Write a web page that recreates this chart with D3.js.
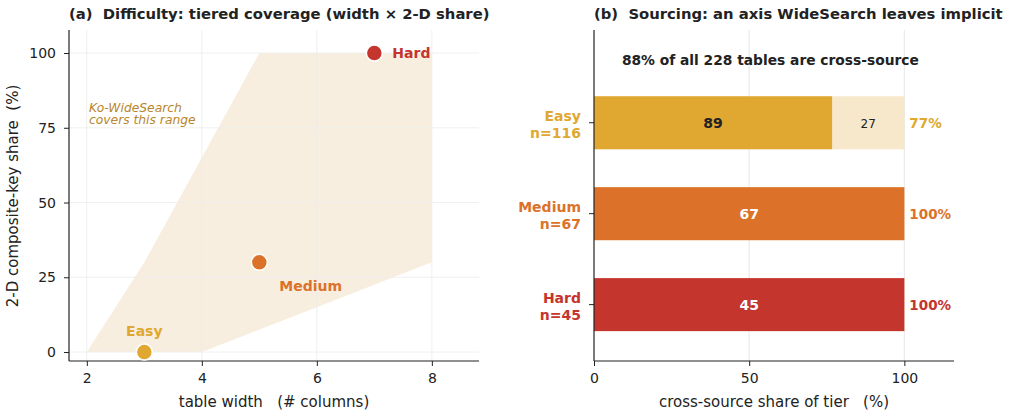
<!DOCTYPE html>
<html>
<head>
<meta charset="utf-8">
<script src="https://cdn.jsdelivr.net/npm/d3@7"></script>
<style>
  body { margin: 0; background: #fff; }
  svg { font-family: "DejaVu Sans", sans-serif; }
  text { white-space: pre; }
</style>
</head>
<body>
<svg id="chart" width="1016" height="416"></svg>
<script>
// panel (a) data
const tiers = ["Easy", "Medium", "Hard"];
const tierWidth = [3, 5, 7];
const tierShare = [0, 30, 100];
const tierColors = ["#e0a830", "#dc7229", "#c4352d"];
const coverX = [2, 3, 5, 8, 8, 4];
const coverY = [0, 30, 100, 100, 30, 0];
const aTicksX = [2, 4, 6, 8];
const aTicksY = [0, 25, 50, 75, 100];

// panel (b) data
const tierN = [116, 67, 45];
const crossSource = [89, 67, 45];
const crossPct = ["77%", "100%", "100%"];
const bTicksX = [0, 50, 100];

const svg = d3.select("#chart");
const ink = "#222";
const grid = "#ebebeb";

//---------- panel (a)
const ax = d3.scaleLinear().domain([1.69, 8.82]).range([69, 479]);
const ay = d3.scaleLinear().domain([-3, 107.7]).range([361, 30]);
const ga = svg.append("g");

ga.append("path")
  .attr("d", d3.line().x(d => ax(d[0])).y(d => ay(d[1]))(coverX.map((x, i) => [x, coverY[i]])) + "Z")
  .attr("fill", "#f8eedf");

ga.selectAll("line.gx").data(aTicksX).join("line")
  .attr("x1", d => ax(d)).attr("x2", d => ax(d)).attr("y1", 30).attr("y2", 361)
  .attr("stroke", grid).attr("stroke-opacity", 0.8);
ga.selectAll("line.gy").data(aTicksY).join("line")
  .attr("x1", 69).attr("x2", 479).attr("y1", d => ay(d)).attr("y2", d => ay(d))
  .attr("stroke", grid).attr("stroke-opacity", 0.8);

const axA = ga.append("g").attr("transform", "translate(0,361)")
  .call(d3.axisBottom(ax).tickValues(aTicksX).tickSize(5).tickPadding(7));
const ayA = ga.append("g").attr("transform", "translate(69,0)")
  .call(d3.axisLeft(ay).tickValues(aTicksY).tickSize(5).tickPadding(8));
[axA, ayA].forEach(g => {
  g.selectAll("text").attr("font-size", 14).attr("fill", ink).attr("font-family", "DejaVu Sans");
  g.selectAll("line").attr("stroke", ink);
  g.select(".domain").attr("stroke", ink).attr("stroke-width", 1.2);
});
axA.select(".domain").attr("d", "M69,0H479");
ayA.select(".domain").attr("d", "M0,361V30");

ga.selectAll("circle").data(tiers).join("circle")
  .attr("cx", (d, i) => ax(tierWidth[i])).attr("cy", (d, i) => ay(tierShare[i]))
  .attr("r", 8).attr("fill", (d, i) => tierColors[i])
  .attr("stroke", "#fff").attr("stroke-width", 1.5);

const labelOff = [[0, -16, "middle"], [20, 29, "start"], [18, 5, "start"]];
ga.selectAll("text.tier").data(tiers).join("text")
  .attr("class", "tier")
  .attr("x", (d, i) => ax(tierWidth[i]) + labelOff[i][0])
  .attr("y", (d, i) => ay(tierShare[i]) + labelOff[i][1])
  .attr("text-anchor", (d, i) => labelOff[i][2])
  .attr("font-size", 14).attr("font-weight", "bold")
  .attr("fill", (d, i) => tierColors[i]).text(d => d);

ga.append("text").attr("x", 89).attr("y", 112).attr("font-size", 12.3)
  .attr("font-style", "italic").attr("fill", "#b8862b")
  .selectAll("tspan").data(["Ko-WideSearch", "covers this range"]).join("tspan")
  .attr("x", 89).attr("dy", (d, i) => i ? 12 : 0).text(d => d);

ga.append("text").attr("x", 69).attr("y", 19).attr("font-size", 14.8)
  .attr("font-weight", "bold").attr("fill", ink)
  .text("(a)  Difficulty: tiered coverage (width \u00d7 2-D share)");
ga.append("text").attr("x", 274).attr("y", 407).attr("text-anchor", "middle")
  .attr("font-size", 15).attr("fill", ink).text("table width   (# columns)");
ga.append("text").attr("transform", "translate(18,196) rotate(-90)")
  .attr("text-anchor", "middle").attr("font-size", 15).attr("fill", ink)
  .text("2-D composite-key share  (%)");

//---------- panel (b)
const bx = d3.scaleLinear().domain([0, 116]).range([594, 954]);
const by = d3.scaleLinear().domain([-1.02, 2.62]).range([30, 361]);
const barH = 53;
const gb = svg.append("g");

gb.selectAll("line.gx").data(bTicksX.slice(1)).join("line")
  .attr("x1", d => bx(d)).attr("x2", d => bx(d)).attr("y1", 30).attr("y2", 361)
  .attr("stroke", grid).attr("stroke-width", 1.2);

// full-tier background (non cross-source)
gb.selectAll("rect.bg").data(tiers).join("rect")
  .attr("x", bx(0)).attr("width", bx(100) - bx(0))
  .attr("y", (d, i) => by(i) - barH / 2).attr("height", barH)
  .attr("fill", "#f7e8cb");
gb.selectAll("rect.fg").data(tiers).join("rect")
  .attr("x", bx(0)).attr("width", (d, i) => bx(100 * crossSource[i] / tierN[i]) - bx(0))
  .attr("y", (d, i) => by(i) - barH / 2).attr("height", barH)
  .attr("fill", (d, i) => tierColors[i]);

gb.selectAll("text.inside").data(tiers).join("text")
  .attr("x", (d, i) => bx(50 * crossSource[i] / tierN[i]))
  .attr("y", (d, i) => by(i) + 5).attr("text-anchor", "middle")
  .attr("font-size", 14).attr("font-weight", "bold")
  .attr("fill", (d, i) => i === 0 ? ink : "#fff")
  .text((d, i) => crossSource[i]);
gb.append("text")
  .attr("x", bx(50 + 50 * crossSource[0] / tierN[0])).attr("y", by(0) + 5)
  .attr("text-anchor", "middle").attr("font-size", 12).attr("fill", ink)
  .text(tierN[0] - crossSource[0]);
gb.selectAll("text.pct").data(tiers).join("text")
  .attr("x", bx(100) + 5).attr("y", (d, i) => by(i) + 5)
  .attr("font-size", 13.5).attr("font-weight", "bold")
  .attr("fill", (d, i) => tierColors[i]).text((d, i) => crossPct[i]);

const bxA = gb.append("g").attr("transform", "translate(0,361)")
  .call(d3.axisBottom(bx).tickValues(bTicksX).tickSize(5).tickPadding(7));
bxA.selectAll("text").attr("font-size", 14).attr("fill", ink).attr("font-family", "DejaVu Sans");
bxA.selectAll("line").attr("stroke", ink);
bxA.select(".domain").attr("d", "M594,0H954").attr("stroke", ink).attr("stroke-width", 1.2);
gb.append("line").attr("x1", 594).attr("x2", 594).attr("y1", 30).attr("y2", 361)
  .attr("stroke", ink).attr("stroke-width", 1.2);
gb.selectAll("line.ty").data(tiers).join("line")
  .attr("x1", 589).attr("x2", 594).attr("y1", (d, i) => by(i)).attr("y2", (d, i) => by(i))
  .attr("stroke", ink);
gb.selectAll("text.ty").data(tiers).join("text")
  .attr("text-anchor", "end").attr("font-size", 14).attr("font-weight", "bold")
  .attr("fill", (d, i) => tierColors[i])
  .each(function(d, i) {
    const t = d3.select(this);
    t.append("tspan").attr("x", 581).attr("y", by(i) - 2).text(d);
    t.append("tspan").attr("x", 581).attr("y", by(i) + 15).text("n=" + tierN[i]);
  });

gb.append("text").attr("x", bx(9)).attr("y", 65).attr("font-size", 13.8)
  .attr("font-weight", "bold").attr("fill", ink)
  .text("88% of all 228 tables are cross-source");

gb.append("text").attr("x", 594).attr("y", 19).attr("font-size", 14.8)
  .attr("font-weight", "bold").attr("fill", ink)
  .text("(b)  Sourcing: an axis WideSearch leaves implicit");
gb.append("text").attr("x", 774).attr("y", 407).attr("text-anchor", "middle")
  .attr("font-size", 15).attr("fill", ink).text("cross-source share of tier   (%)");
</script>
</body>
</html>
